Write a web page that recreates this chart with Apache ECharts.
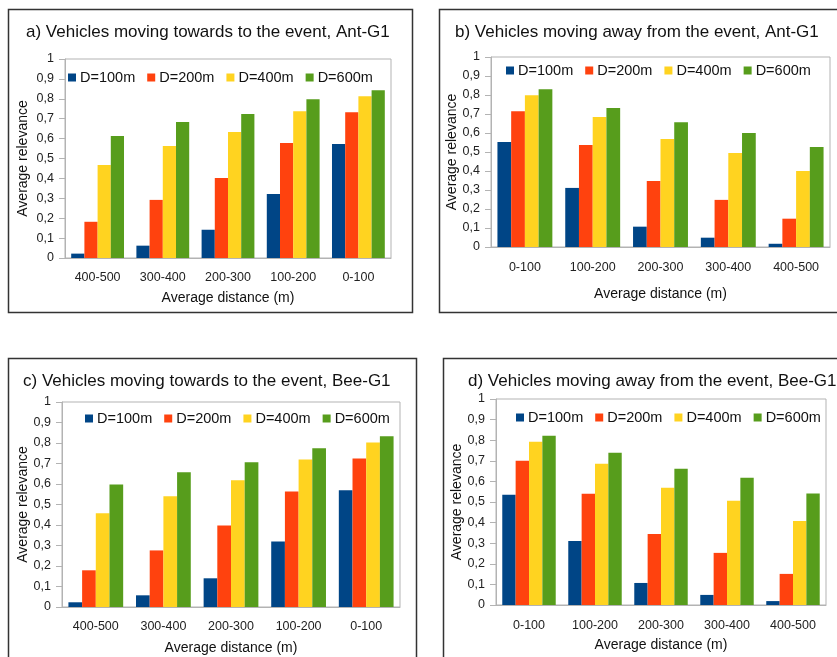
<!DOCTYPE html>
<html>
<head>
<meta charset="utf-8">
<script src="https://cdn.jsdelivr.net/npm/echarts@6/dist/echarts.min.js"></script>
<style>
  html, body { margin: 0; padding: 0; background: #fff; }
  #chart { width: 837px; height: 657px; }
</style>
</head>
<body>
<div id="chart"></div>
<script>
var distTowards = ['400-500', '300-400', '200-300', '100-200', '0-100'];
var distAway = ['0-100', '100-200', '200-300', '300-400', '400-500'];
var radii = ['D=100m', 'D=200m', 'D=400m', 'D=600m'];
var colors = ['#004586', '#ff420e', '#ffd320', '#579d1c'];

// one row per radius (100, 200, 400, 600 m)
var antTowards = [
  [0.022, 0.062, 0.142, 0.322, 0.573],
  [0.182, 0.292, 0.402, 0.578, 0.733],
  [0.467, 0.563, 0.633, 0.738, 0.813],
  [0.613, 0.683, 0.723, 0.798, 0.843]
];
var antAway = [
  [0.552, 0.311, 0.107, 0.049, 0.017],
  [0.715, 0.537, 0.348, 0.248, 0.149],
  [0.799, 0.684, 0.568, 0.495, 0.400],
  [0.830, 0.731, 0.657, 0.600, 0.526]
];
var beeTowards = [
  [0.023, 0.057, 0.140, 0.320, 0.569],
  [0.179, 0.276, 0.398, 0.564, 0.725],
  [0.457, 0.540, 0.618, 0.720, 0.803],
  [0.598, 0.657, 0.706, 0.774, 0.833]
];
var beeAway = [
  [0.535, 0.311, 0.107, 0.049, 0.019],
  [0.700, 0.540, 0.345, 0.253, 0.151],
  [0.793, 0.686, 0.569, 0.506, 0.408],
  [0.822, 0.739, 0.661, 0.618, 0.541]
];

var panels = [
  {title: 'a) Vehicles moving towards to the event, Ant-G1', cats: distTowards, data: antTowards,
   titlePos: [26, 24], legendPos: [68, 70],
   grid: {left: 65, right: 446, top: 59, bottom: 399}, yGap: 35, xGap: 33, xMargin: 13},
  {title: 'b) Vehicles moving away from the event, Ant-G1', cats: distAway, data: antAway,
   titlePos: [455, 24], legendPos: [506, 63],
   grid: {left: 491, right: 7, top: 57, bottom: 410}, yGap: 30, xGap: 40, xMargin: 14},
  {title: 'c) Vehicles moving towards to the event, Bee-G1', cats: distTowards, data: beeTowards,
   titlePos: [23, 373], legendPos: [85, 411],
   grid: {left: 62, right: 437, top: 402, bottom: 50}, yGap: 32, xGap: 34, xMargin: 13},
  {title: 'd) Vehicles moving away from the event, Bee-G1', cats: distAway, data: beeAway,
   titlePos: [468, 373], legendPos: [516, 410],
   grid: {left: 496, right: 11, top: 399, bottom: 52}, yGap: 31, xGap: 33, xMargin: 14}
];

var font = 'Liberation Sans, Arial, sans-serif';
var option = {
  animation: false,
  color: colors,
  title: [], legend: [], grid: [], xAxis: [], yAxis: [], series: [],
  graphic: [
    {type: 'rect', shape: {x: 8.5, y: 9.5, width: 404, height: 303}, style: {fill: 'none', stroke: '#333', lineWidth: 1.5}},
    {type: 'rect', shape: {x: 439.5, y: 9.5, width: 420, height: 303}, style: {fill: 'none', stroke: '#333', lineWidth: 1.5}},
    {type: 'rect', shape: {x: 8.5, y: 358.5, width: 408, height: 320}, style: {fill: 'none', stroke: '#333', lineWidth: 1.5}},
    {type: 'rect', shape: {x: 443.5, y: 358.5, width: 420, height: 320}, style: {fill: 'none', stroke: '#333', lineWidth: 1.5}}
  ]
};

panels.forEach(function (p, i) {
  option.title.push({
    text: p.title, left: p.titlePos[0], top: p.titlePos[1], padding: 0,
    textStyle: {fontFamily: font, fontSize: 17, fontWeight: 'normal', color: '#111'}
  });
  option.legend.push({
    data: radii.map(function (r) { return {name: r + '#' + i}; }),
    left: p.legendPos[0], top: p.legendPos[1], padding: 0,
    icon: 'rect', itemWidth: 8, itemHeight: 8, itemGap: 12,
    formatter: function (n) { return n.split('#')[0]; },
    textStyle: {fontFamily: font, fontSize: 14.5, color: '#111', padding: [0, 0, 0, -1]}
  });
  option.grid.push({
    left: p.grid.left, right: p.grid.right, top: p.grid.top, bottom: p.grid.bottom,
    show: true, borderColor: '#b3b3b3', borderWidth: 1
  });
  option.xAxis.push({
    type: 'category', gridIndex: i, data: p.cats,
    name: 'Average distance (m)', nameLocation: 'middle', nameGap: p.xGap,
    nameTextStyle: {fontFamily: font, fontSize: 14, color: '#111'},
    axisLine: {lineStyle: {color: '#b3b3b3'}},
    axisTick: {length: 7, lineStyle: {color: '#b3b3b3'}},
    axisLabel: {fontFamily: font, fontSize: 12.5, color: '#222', margin: p.xMargin}
  });
  option.yAxis.push({
    type: 'value', gridIndex: i, min: 0, max: 1, interval: 0.1,
    name: 'Average relevance', nameLocation: 'middle', nameGap: p.yGap,
    nameTextStyle: {fontFamily: font, fontSize: 14, color: '#111'},
    axisLine: {show: true, lineStyle: {color: '#b3b3b3'}},
    axisTick: {show: true, length: 6, lineStyle: {color: '#b3b3b3'}},
    splitLine: {show: false},
    axisLabel: {
      fontFamily: font, fontSize: 12.5, color: '#222', margin: 11,
      formatter: function (v) { return String(+v.toFixed(1)).replace('.', ','); }
    }
  });
  p.data.forEach(function (vals, k) {
    option.series.push({
      type: 'bar', name: radii[k] + '#' + i, xAxisIndex: i, yAxisIndex: i,
      data: vals, barGap: '0%', barCategoryGap: '19%',
      itemStyle: {color: colors[k]}
    });
  });
});

var chart = echarts.init(document.getElementById('chart'), null, {renderer: 'canvas'});
chart.setOption(option);
</script>
</body>
</html>
